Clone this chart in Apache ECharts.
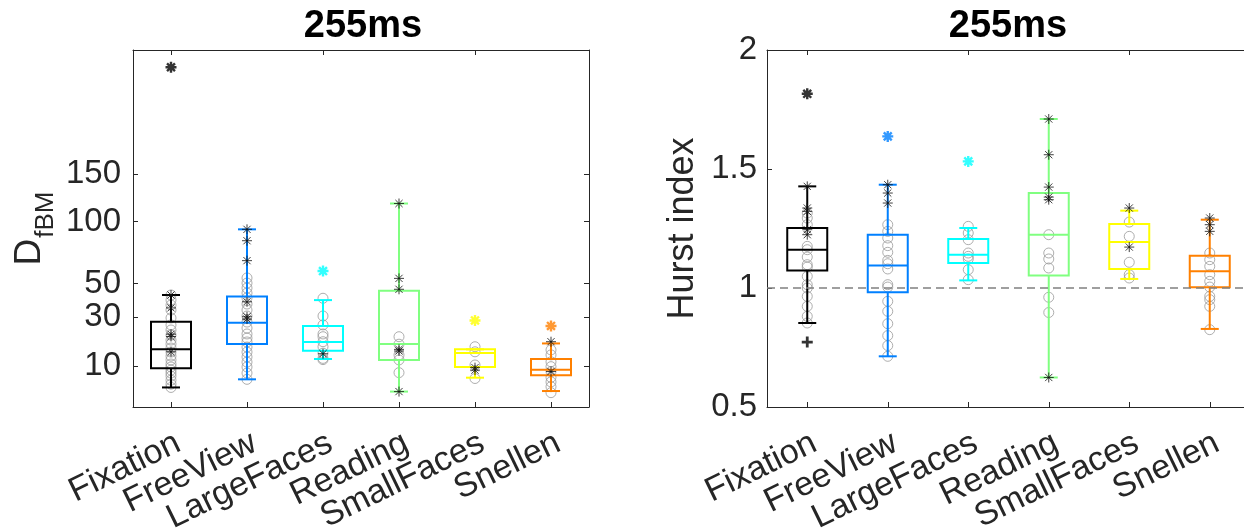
<!DOCTYPE html>
<html>
<head>
<meta charset="utf-8">
<script src="https://cdn.jsdelivr.net/npm/echarts@6/dist/echarts.min.js"></script>
<style>
html,body{margin:0;padding:0;background:#fff;}
#chart{width:1244px;height:529px;}
</style>
</head>
<body>
<div id="chart"></div>
<script>
// ---------- DATA ----------
const categories = ['Fixation', 'FreeView', 'LargeFaces', 'Reading', 'SmallFaces', 'Snellen'];
const titleText = '255ms';

// Left panel: D_fBM (square-root scaled axis)
const dfbmTickVals = [10, 30, 50, 100, 150];
const dfbmRange = [1.484, 329];
// [min, Q1, median, Q3, max]
const dfbmBox = [
  [4.6, 9.3, 15.6, 27.7, 42.6],
  [6.4, 17.7, 27.2, 41.6, 92.9],
  [12.2, 15.1, 18.5, 25.6, 39.5],
  [3.8, 11.9, 17.7, 45.3, 118],
  [6.8, 9.7, 14.3, 15.6, 15.6],
  [3.9, 7.4, 8.9, 12.2, 17.9]
];
const dfbmCircles = [
  [42.6, 39.6, 36.6, 33.8, 29.6, 26.1, 23.7, 21.4, 19.3, 17.7, 16.1, 14.6, 13.2, 11.9, 10.6, 9.7, 8.8, 8.0, 7.2, 6.2, 5.3, 4.6],
  [53.8, 50.3, 47.0, 43.8, 40.8, 37.2, 33.8, 30.6, 27.5, 24.6, 21.9, 20.1, 18.5, 16.5, 14.6, 12.9, 11.2, 9.7, 8.0, 6.4],
  [40.6, 30.6, 26.1, 21.9, 20.7, 18.6, 16.6, 14.2, 12.4, 12.0],
  [20.7, 17.6, 13.6, 11.9, 8.1],
  [16.6, 14.7, 10.3, 6.6],
  [15.4, 13.6, 11.3, 9.8, 8.4, 6.9, 5.8, 4.75, 3.6]
];
const dfbmStars = [
  [42.6, 35.0, 21.8, 20.8, 14.7],
  [92.9, 82.8, 66.5, 38.5, 30.2, 29.0],
  [14.0],
  [118, 53.5, 46.2, 15.6, 15.0, 3.8],
  [9.5, 8.8],
  [18.6, 8.4]
];
const dfbmOutliers = [[300], [], [58.7], [], [28.3], [25.6]];

// Right panel: Hurst index
const hurstRange = [0.5, 2];
const hurstTickStep = 0.5;
const hurstRef = 1;
const hurstBox = [
  [0.853, 1.074, 1.161, 1.252, 1.427],
  [0.713, 0.982, 1.095, 1.224, 1.434],
  [1.032, 1.105, 1.140, 1.206, 1.252],
  [0.624, 1.053, 1.224, 1.399, 1.710],
  [1.038, 1.080, 1.193, 1.269, 1.325],
  [0.828, 1.003, 1.070, 1.136, 1.287]
];
const hurstCircles = [
  [1.315, 1.294, 1.266, 1.175, 1.161, 1.130, 1.098, 1.088, 1.049, 1.014, 1.0, 0.965, 0.923, 0.881, 0.853],
  [1.266, 1.238, 1.210, 1.178, 1.150, 1.116, 1.102, 1.080, 1.014, 1.004, 0.944, 0.902, 0.850, 0.800, 0.758, 0.713],
  [1.259, 1.231, 1.203, 1.147, 1.133, 1.122, 1.077, 1.035],
  [1.224, 1.147, 1.122, 1.084, 0.961, 0.897],
  [1.277, 1.217, 1.108, 1.056, 1.042],
  [1.147, 1.119, 1.091, 1.056, 1.028, 1.004, 0.965, 0.951, 0.923, 0.825]
];
const hurstStars = [
  [1.427, 1.336, 1.322, 1.245, 1.224],
  [1.434, 1.399, 1.357],
  [],
  [1.710, 1.560, 1.424, 1.382, 1.371, 0.624],
  [1.336, 1.172],
  [1.294, 1.266, 1.238]
];
const hurstOutliers = [[1.816], [1.637], [1.532], [], [], []];
const hurstPlus = [[0.773], [], [], [], [], []];

// ---------- STYLE ----------
const boxColors = ['#000000', '#0080ff', '#00ffff', '#80ff80', '#ffff00', '#ff8000'];
const FONT = '"Liberation Sans", Arial, Helvetica, sans-serif';
const AX = '#262626';
const STAR = 'path://M0,-1L0,1M-1,0L1,0M-0.72,-0.72L0.72,0.72M0.72,-0.72L-0.72,0.72';
const PLUS = 'path://M0,-1L0,1M-1,0L1,0';

const sq = v => Math.sqrt(v);
const id = v => v;
function pts(lists, tf) {
  const out = [];
  lists.forEach((arr, i) => arr.forEach(v => out.push([i, tf(v)])));
  return out;
}
function colorPts(lists, tf) {
  const out = [];
  lists.forEach((arr, i) => arr.forEach(v => out.push({value: [i, tf(v)], itemStyle: {borderColor: boxColors[i]}})));
  return out;
}

function renderBox(params, api) {
  const i = api.value(0);
  const p = k => api.coord([i, api.value(k)]);
  const pMin = p(1), pQ1 = p(2), pMed = p(3), pQ3 = p(4), pMax = p(5);
  const x = pMin[0], hw = 20, cw = 9;
  const c = boxColors[params.dataIndex];
  const st = {stroke: c, lineWidth: 2, fill: null};
  return {
    type: 'group',
    children: [
      {type: 'line', shape: {x1: x, y1: pQ3[1], x2: x, y2: pMax[1]}, style: st},
      {type: 'line', shape: {x1: x, y1: pQ1[1], x2: x, y2: pMin[1]}, style: st},
      {type: 'line', shape: {x1: x - cw, y1: pMax[1], x2: x + cw, y2: pMax[1]}, style: st},
      {type: 'line', shape: {x1: x - cw, y1: pMin[1], x2: x + cw, y2: pMin[1]}, style: st},
      {type: 'rect', shape: {x: x - hw, y: pQ3[1], width: 2 * hw, height: pQ1[1] - pQ3[1]}, style: {stroke: c, lineWidth: 2, fill: null}},
      {type: 'line', shape: {x1: x - hw, y1: pMed[1], x2: x + hw, y2: pMed[1]}, style: st}
    ]
  };
}

function xAxes(gi) {
  const base = {
    gridIndex: gi, type: 'category', data: categories, boundaryGap: true,
    axisLine: {show: true, lineStyle: {color: AX, width: 1}},
    axisTick: {show: true, inside: true, alignWithLabel: true, length: 5, lineStyle: {color: AX}},
    splitLine: {show: false}
  };
  return [
    Object.assign({}, base, {position: 'bottom',
      axisLabel: {interval: 0, rotate: 26, margin: 19, align: 'right', verticalAlign: 'top',
        fontSize: 34, color: AX, fontFamily: FONT}}),
    Object.assign({}, base, {position: 'top', axisLabel: {show: false}})
  ];
}

const sqTicks = dfbmTickVals.map(sq);
const leftY = {
  gridIndex: 0, type: 'value', min: sq(dfbmRange[0]), max: sq(dfbmRange[1]),
  axisLine: {show: true, lineStyle: {color: AX}},
  axisTick: {show: true, inside: true, length: 5, customValues: sqTicks, lineStyle: {color: AX}},
  axisLabel: {customValues: sqTicks, formatter: v => String(Math.round(v * v)), fontSize: 33, color: AX, fontFamily: FONT, margin: 12},
  splitLine: {show: false},
  name: '{a|D}{b|fBM}', nameLocation: 'middle', nameGap: 85, nameRotate: 90,
  nameTextStyle: {
    fontFamily: FONT, color: AX,
    rich: {
      a: {fontSize: 37, fontFamily: FONT, color: AX, verticalAlign: 'top', lineHeight: 37},
      b: {fontSize: 26, fontFamily: FONT, color: AX, verticalAlign: 'top', lineHeight: 26, padding: [22, 0, 0, 1]}
    }
  }
};
const leftY2 = {
  gridIndex: 0, type: 'value', position: 'right', min: sq(dfbmRange[0]), max: sq(dfbmRange[1]),
  axisLine: {show: true, lineStyle: {color: AX}},
  axisTick: {show: true, inside: true, length: 5, customValues: sqTicks, lineStyle: {color: AX}},
  axisLabel: {show: false}, splitLine: {show: false}
};
const rightY = {
  gridIndex: 1, type: 'value', min: hurstRange[0], max: hurstRange[1], interval: hurstTickStep,
  axisLine: {show: true, lineStyle: {color: AX}},
  axisTick: {show: true, inside: true, length: 5, lineStyle: {color: AX}},
  axisLabel: {fontSize: 33, color: AX, fontFamily: FONT, margin: 10},
  splitLine: {show: false},
  name: 'Hurst index', nameLocation: 'middle', nameGap: 66, nameRotate: 90,
  nameTextStyle: {fontSize: 36, fontFamily: FONT, color: AX}
};

function panelSeries(xi, yi, box, circles, stars, outliers, plus, tf, withRef) {
  const s = [];
  const circ = {
    type: 'scatter', xAxisIndex: xi, yAxisIndex: yi, data: pts(circles, tf),
    symbol: 'circle', symbolSize: 10, z: 2,
    itemStyle: {color: 'rgba(0,0,0,0)', borderColor: '#9a9a9a', borderWidth: 1}
  };
  if (withRef) {
    circ.markLine = {
      silent: true, symbol: ['none', 'none'], label: {show: false},
      lineStyle: {type: [8, 5], color: '#808080', width: 1.5},
      data: [{yAxis: hurstRef}]
    };
  }
  s.push(circ);
  s.push({
    type: 'custom', xAxisIndex: xi, yAxisIndex: yi, renderItem: renderBox, z: 3,
    encode: {x: 0, y: [1, 2, 3, 4, 5]},
    data: box.map((b, i) => [i].concat(b.map(tf)))
  });
  s.push({
    type: 'scatter', xAxisIndex: xi, yAxisIndex: yi, data: pts(stars, tf),
    symbol: STAR, symbolSize: 10, z: 4,
    itemStyle: {color: 'rgba(0,0,0,0)', borderColor: '#111', borderWidth: 1}
  });
  s.push({
    type: 'scatter', xAxisIndex: xi, yAxisIndex: yi, data: colorPts(outliers, tf),
    symbol: STAR, symbolSize: 11, z: 5,
    itemStyle: {color: 'rgba(0,0,0,0)', borderWidth: 2.4}
  });
  if (plus) {
    s.push({
      type: 'scatter', xAxisIndex: xi, yAxisIndex: yi, data: colorPts(plus, tf),
      symbol: PLUS, symbolSize: 11, z: 5,
      itemStyle: {color: 'rgba(0,0,0,0)', borderWidth: 2.8}
    });
  }
  return s;
}

const chart = echarts.init(document.getElementById('chart'), null, {renderer: 'canvas'});
chart.setOption({
  animation: false,
  backgroundColor: '#ffffff',
  title: [
    {text: titleText, left: 358, top: 3, textAlign: 'center', textStyle: {fontSize: 38, fontWeight: 'bold', color: '#000', fontFamily: FONT}},
    {text: titleText, left: 1003, top: 3, textAlign: 'center', textStyle: {fontSize: 38, fontWeight: 'bold', color: '#000', fontFamily: FONT}}
  ],
  grid: [
    {left: 133, top: 50, width: 456, height: 357, containLabel: false, outerBoundsMode: 'none'},
    {left: 767, top: 50, width: 483, height: 357, containLabel: false, outerBoundsMode: 'none'}
  ],
  xAxis: xAxes(0).concat(xAxes(1)),
  yAxis: [leftY, leftY2, rightY],
  series: []
    .concat(panelSeries(0, 0, dfbmBox, dfbmCircles, dfbmStars, dfbmOutliers, null, sq, false))
    .concat(panelSeries(2, 2, hurstBox, hurstCircles, hurstStars, hurstOutliers, hurstPlus, id, true))
});
</script>
</body>
</html>
